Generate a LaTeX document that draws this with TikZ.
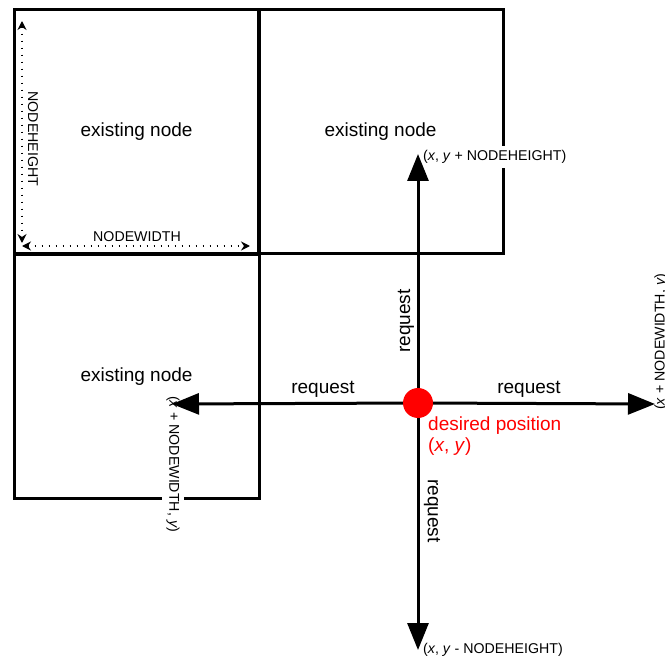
\documentclass[tikz,border=0pt]{standalone}
\usepackage{fontspec}
\setmainfont{Liberation Sans}
\usetikzlibrary{arrows.meta}
\begin{document}
\begin{tikzpicture}[x=1pt,y=-1pt,
  box/.style={draw, line width=3pt, minimum width=245pt, minimum height=244pt, inner sep=0pt, font=\fontsize{19}{22}\selectfont},
  req/.style={line width=3pt, -{Triangle[length=27pt,width=21pt]}},
  dimline/.style={line width=1.6pt, dash pattern=on 1.6pt off 5.4pt, {Stealth[length=9pt,width=9pt]}-{Stealth[length=9pt,width=9pt]}},
  lbl/.style={font=\fontsize{19}{22}\selectfont},
  small/.style={font=\fontsize{14.2}{17}\selectfont},
  endlbl/.style={small, fill=white, inner sep=4pt},
  dot/.style={circle, fill=red, minimum size=30pt, inner sep=0pt}]
\useasboundingbox (0,0) rectangle (665,658);

% existing nodes
\node[box] (tl) at (136.5,132) {existing node};
\node[box] (tr) at (380.5,132) {existing node};
\node[box] (bl) at (136.5,376.5) {existing node};

% dimension arrows
\coordinate (h1) at (22,21);
\coordinate (h2) at (22,243);
\coordinate (w1) at (22,246);
\coordinate (w2) at (250,246);
\draw[dimline] (h1) -- (h2);
\draw[dimline] (w1) -- (w2);
\node[small, rotate=-90] (nh) at (33,139) {NODEHEIGHT};
\node[small] (nw) at (137,237) {NODEWIDTH};

% request arrows
\coordinate (o) at (418,403);
\coordinate (up) at (418,154);
\coordinate (dn) at (418,650);
\coordinate (lf) at (172,404);
\coordinate (rt) at (655,404);

% end labels (white background breaks box lines)
\node[endlbl, anchor=west] (lup) at (419,157) {(\textit{x}, \textit{y} + NODEHEIGHT)};
\node[endlbl, anchor=west] (ldn) at (419,650) {(\textit{x}, \textit{y} - NODEHEIGHT)};
\node[endlbl, anchor=west, rotate=-90] (llf) at (173,392) {(\textit{x} + NODEWIDTH, \textit{y})};
\node[endlbl, anchor=west, rotate=90] (lrt) at (661,414) {(\textit{x} + NODEWIDTH, \textit{y})};

\draw[req] (o) -- (up);
\draw[req] (o) -- (dn);
\draw[req] (o) -- (lf);
\draw[req] (o) -- (rt);

\node[lbl, rotate=90] (rqu) at (406,321) {request};
\node[lbl, rotate=-90] (rqd) at (432,511) {request};
\node[lbl] (rql) at (323,389) {request};
\node[lbl] (rqr) at (529,389) {request};

\node[dot] (dp) at (o) {};
\node[lbl, red, anchor=base west, inner sep=0pt] (dpl1) at (428,430) {desired position};
\node[lbl, red, anchor=base west, inner sep=0pt] (dpl2) at (428,451) {(\textit{x}, \textit{y})};
\end{tikzpicture}
\end{document}
